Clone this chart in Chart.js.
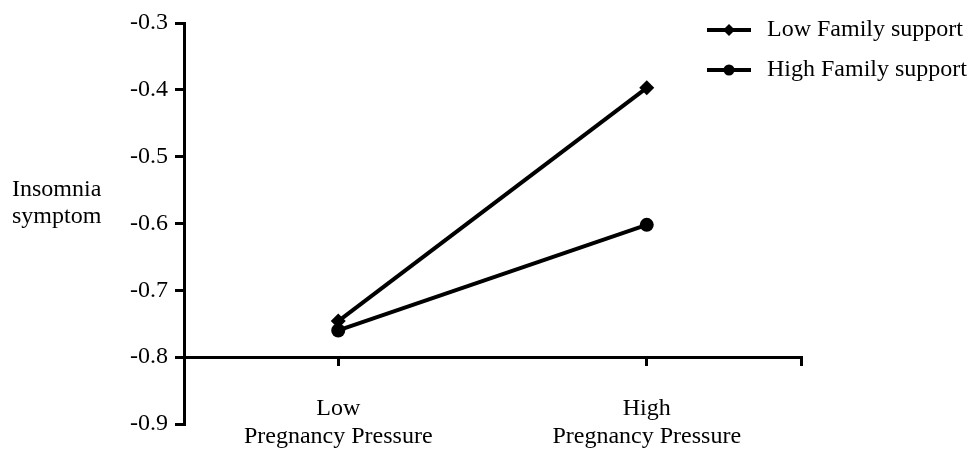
<!DOCTYPE html>
<html>
<head>
<meta charset="utf-8">
<script src="https://cdn.jsdelivr.net/npm/chart.js@4"></script>
<style>
  html, body { margin: 0; padding: 0; background: #fff; }
  #wrap { width: 972px; height: 449px; }
</style>
</head>
<body>
<div id="wrap"><canvas id="chart"></canvas></div>
<script>
"use strict";

// data
let categories = [["Low", "Pregnancy Pressure"], ["High", "Pregnancy Pressure"]];
let categoryPos = [1, 3];
let lowSupport = [-0.746, -0.397];
let highSupport = [-0.760, -0.602];
let seriesNames = ["Low Family support", "High Family support"];
let yTicks = [-0.9, -0.8, -0.7, -0.6, -0.5, -0.4, -0.3];
let yTitleLines = ["Insomnia", "symptom"];

const FONT = "'Liberation Serif', 'Times New Roman', serif";

function toPoints(values) {
    return values.map(function (v, i) {
        return { x: categoryPos[i], y: v };
    });
}

// y title (horizontal) and the line+marker legend at top right
let extras = {
    id: "extras",
    afterDraw: function (chart) {
        let ctx = chart.ctx;
        ctx.save();
        ctx.fillStyle = "#000";
        ctx.font = "24px " + FONT;
        ctx.textAlign = "left";
        ctx.textBaseline = "alphabetic";
        yTitleLines.forEach(function (line, i) {
            ctx.fillText(line, 12, 196 + i * 27);
        });

        ctx.textBaseline = "middle";
        chart.data.datasets.forEach(function (ds, i) {
            let y = 30 + i * 40;
            ctx.strokeStyle = "#000";
            ctx.lineWidth = 4;
            ctx.beginPath();
            ctx.moveTo(707, y);
            ctx.lineTo(751, y);
            ctx.stroke();
            ctx.fillStyle = "#000";
            Chart.helpers.drawPoint(ctx, {
                pointStyle: ds.pointStyle,
                radius: ds.pointRadius - 1.5,
                borderWidth: 0
            }, 729, y);
            ctx.font = "24px " + FONT;
            ctx.fillText(ds.label, 767, y);
        });
        ctx.restore();
    }
};

let ctx = document.getElementById("chart").getContext("2d");
let chart = new Chart(ctx, {
    type: "line",
    data: {
        datasets: [{
            label: seriesNames[0],
            data: toPoints(lowSupport),
            borderColor: "#000",
            backgroundColor: "#000",
            borderWidth: 4,
            pointStyle: "rectRot",
            pointRadius: 7.5,
            pointBorderWidth: 0,
            pointHoverRadius: 7.5
        }, {
            label: seriesNames[1],
            data: toPoints(highSupport),
            borderColor: "#000",
            backgroundColor: "#000",
            borderWidth: 4,
            pointStyle: "circle",
            pointRadius: 7,
            pointBorderWidth: 0,
            pointHoverRadius: 7
        }]
    },
    options: {
        responsive: true,
        maintainAspectRatio: false,
        animation: false,
        layout: {
            padding: { left: 0, right: 171, top: 23, bottom: 25 }
        },
        plugins: {
            legend: { display: false },
            tooltip: { enabled: false }
        },
        scales: {
            x: {
                type: "linear",
                position: { y: -0.8 },
                min: 0,
                max: 4,
                afterBuildTicks: function (scale) {
                    scale.ticks = categoryPos.concat([4]).map(function (v) {
                        return { value: v };
                    });
                },
                ticks: {
                    color: "#000",
                    font: { family: FONT, size: 24, lineHeight: 1.17 },
                    padding: 30,
                    maxRotation: 0,
                    autoSkip: false,
                    callback: function (value) {
                        let i = categoryPos.indexOf(value);
                        return i >= 0 ? categories[i] : "";
                    }
                },
                grid: {
                    drawOnChartArea: false,
                    drawTicks: true,
                    tickLength: 7,
                    color: "#000",
                    lineWidth: 3
                },
                border: { color: "#000", width: 3 }
            },
            y: {
                min: -0.9,
                max: -0.3,
                afterFit: function (scale) {
                    scale.width = 184;
                },
                afterBuildTicks: function (scale) {
                    scale.ticks = yTicks.map(function (v) {
                        return { value: v };
                    });
                },
                ticks: {
                    color: "#000",
                    font: { family: FONT, size: 24 },
                    padding: 7,
                    callback: function (value) {
                        return value.toFixed(1);
                    }
                },
                grid: {
                    drawOnChartArea: false,
                    drawTicks: true,
                    tickLength: 9,
                    color: "#000",
                    lineWidth: 3
                },
                border: { color: "#000", width: 3 }
            }
        }
    },
    plugins: [extras]
});
</script>
</body>
</html>
